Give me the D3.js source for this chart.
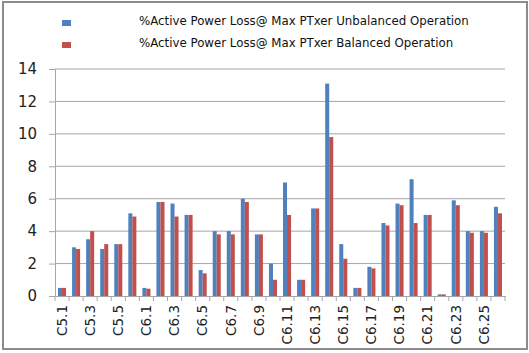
<!DOCTYPE html>
<html lang="en">
<head>
  <meta charset="UTF-8">
  <title>Active Power Loss</title>
  <script src="https://d3js.org/d3.v7.min.js"></script>
  <style>
    body {
      margin: 0;
      background: #fff;
      font-family: "DejaVu Sans", sans-serif;
    }
    .grid line {
      stroke: #a6a6a6;
      stroke-width: 1px;
    }
  </style>
</head>
<body>
<svg width="529" height="353"></svg>

<script>
  const categories = [
    "C5.1", "C5.2", "C5.3", "C5.4", "C5.5", "C5.6",
    "C6.1", "C6.2", "C6.3", "C6.4", "C6.5", "C6.6", "C6.7", "C6.8", "C6.9", "C6.10",
    "C6.11", "C6.12", "C6.13", "C6.14", "C6.15", "C6.16", "C6.17", "C6.18", "C6.19", "C6.20",
    "C6.21", "C6.22", "C6.23", "C6.24", "C6.25", "C6.26"
  ];
  const unbalanced = [
    0.5, 3.0, 3.5, 2.9, 3.2, 5.1,
    0.5, 5.8, 5.7, 5.0, 1.6, 4.0, 4.0, 6.0, 3.8, 2.0,
    7.0, 1.0, 5.4, 13.1, 3.2, 0.5, 1.8, 4.5, 5.7, 7.2,
    5.0, 0.1, 5.9, 4.0, 4.0, 5.5
  ];
  const balanced = [
    0.5, 2.9, 4.0, 3.2, 3.2, 4.9,
    0.45, 5.8, 4.9, 5.0, 1.4, 3.8, 3.8, 5.8, 3.8, 1.0,
    5.0, 1.0, 5.4, 9.8, 2.3, 0.5, 1.7, 4.35, 5.6, 4.5,
    5.0, 0.1, 5.6, 3.9, 3.9, 5.1
  ];
  const seriesNames = [
    "%Active Power Loss@ Max PTxer Unbalanced Operation",
    "%Active Power Loss@ Max PTxer Balanced Operation"
  ];
  const yTicks = [0, 2, 4, 6, 8, 10, 12, 14];

  const colors = ["#4f81bd", "#c0504d"];
  const series = [unbalanced, balanced];

  const svg = d3.select("svg");

  // outer frame
  svg.append("rect")
    .attr("x", 3).attr("y", 2)
    .attr("width", 524).attr("height", 347)
    .attr("fill", "none")
    .attr("stroke", "#8c8c8c")
    .attr("stroke-width", 2);

  const x = d3.scaleBand()
    .domain(categories)
    .range([55, 505]);

  const inner = d3.scaleBand()
    .domain([0, 1])
    .range([0, x.bandwidth()])
    .paddingInner(0)
    .paddingOuter(0.75);

  const y = d3.scaleLinear()
    .domain([0, 14])
    .range([296, 69]);

  // gridlines
  svg.append("g")
    .attr("class", "grid")
    .selectAll("line")
    .data(yTicks.slice(1))
    .enter()
    .append("line")
    .attr("x1", 55).attr("x2", 505)
    .attr("y1", d => y(d)).attr("y2", d => y(d));

  // bars
  categories.forEach((c, i) => {
    series.forEach((s, k) => {
      svg.append("rect")
        .attr("x", x(c) + inner(k))
        .attr("y", y(s[i]))
        .attr("width", inner.bandwidth())
        .attr("height", y(0) - y(s[i]))
        .attr("fill", colors[k]);
    });
  });

  // y axis
  const yAxis = svg.append("g")
    .attr("transform", "translate(55,0)")
    .call(d3.axisLeft(y).tickValues(yTicks).tickSize(6).tickPadding(12));
  yAxis.select(".domain").attr("stroke", "#a6a6a6");
  yAxis.selectAll(".tick line").attr("stroke", "#a6a6a6");
  yAxis.selectAll("text")
    .attr("font-family", "DejaVu Sans")
    .attr("font-size", 15)
    .attr("fill", "#222");

  // x axis
  const xAxis = svg.append("g")
    .attr("transform", "translate(0,296)")
    .call(d3.axisBottom(x).tickSize(0).tickFormat((d, i) => i % 2 === 0 ? d : ""));
  xAxis.select(".domain").attr("stroke", "#a6a6a6");
  xAxis.selectAll("text")
    .attr("font-family", "DejaVu Sans")
    .attr("font-size", 13.5)
    .attr("fill", "#222")
    .attr("transform", "rotate(-90)")
    .attr("text-anchor", "end")
    .attr("x", -9)
    .attr("y", 0)
    .attr("dy", "0.35em");

  // category boundary ticks
  svg.append("g")
    .selectAll("line")
    .data(categories.concat(["end"]))
    .enter()
    .append("line")
    .attr("x1", (d, i) => i < categories.length ? x(d) : x.range()[1])
    .attr("x2", (d, i) => i < categories.length ? x(d) : x.range()[1])
    .attr("y1", 296).attr("y2", 301)
    .attr("stroke", "#a6a6a6");

  // legend
  const legend = svg.append("g");
  seriesNames.forEach((name, k) => {
    legend.append("rect")
      .attr("x", 62).attr("y", 20 + k * 22)
      .attr("width", 9).attr("height", 6)
      .attr("fill", colors[k]);
    legend.append("text")
      .attr("x", 139).attr("y", 25 + k * 22)
      .attr("font-family", "DejaVu Sans")
      .attr("font-size", 11.8)
      .attr("fill", "#111")
      .text(name);
  });
</script>
</body>
</html>
